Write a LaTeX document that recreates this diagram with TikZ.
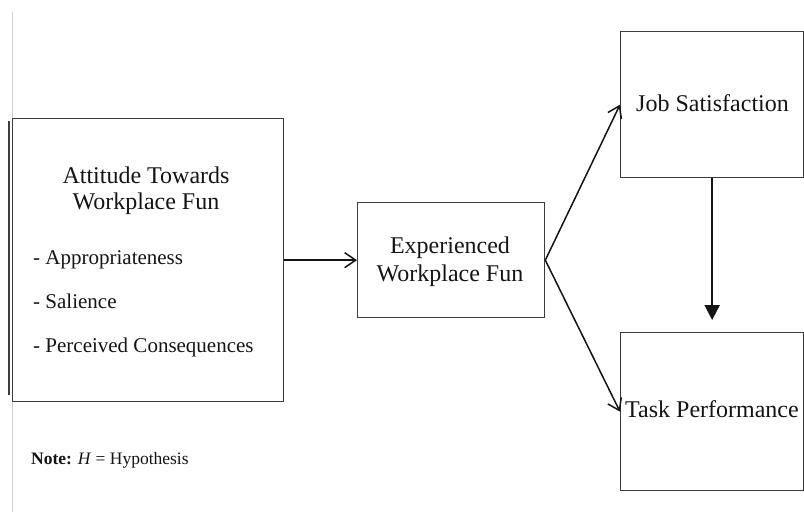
\documentclass[tikz,border=0pt]{standalone}
\usepackage{fontspec}
\setmainfont{Liberation Serif}
\usetikzlibrary{arrows.meta}
\definecolor{boxline}{RGB}{60,60,60}
\definecolor{ink}{RGB}{20,20,20}
\tikzset{
  box/.style={draw=boxline, line width=1.3pt, rectangle, inner sep=0pt, anchor=north west},
  txt/.style={inner sep=0pt, text=ink, font=\fontsize{24}{28}\selectfont},
  itemtxt/.style={inner sep=0pt, text=ink, font=\fontsize{21}{25}\selectfont, anchor=base west},
  arr/.style={line width=1.5pt, draw=ink, -{Straight Barb[length=11pt,width=15pt,line width=1.5pt]}},
  arrfill/.style={line width=2.2pt, draw=ink, -{Triangle[length=15pt,width=15pt]}}
}
\begin{document}
\begin{tikzpicture}[x=1pt,y=-1pt]
\useasboundingbox (0,0) rectangle (804,512);
% page margin artifacts
\draw[gray!35, line width=1pt] (12,12) -- (12,512);
\draw[boxline, line width=2pt] (9,121) -- (9,395);
% boxes
\node[box, minimum width=271pt, minimum height=283pt] (att) at (12,118) {};
\node[box, minimum width=187pt, minimum height=115pt] (exp) at (357,202) {};
\node[box, minimum width=183pt, minimum height=146pt] (job) at (620,31) {};
\node[box, minimum width=183pt, minimum height=158pt] (task) at (620,332) {};
% texts
\node[txt, anchor=base] (att1) at (146,183) {Attitude Towards};
\node[txt, anchor=base] (att2) at (146,209) {Workplace Fun};
\node[itemtxt] (i1) at (33,264) {- Appropriateness};
\node[itemtxt] (i2) at (33,308) {- Salience};
\node[itemtxt] (i3) at (33,352) {- Perceived Consequences};
\node[txt, anchor=base] (exp1) at (450,253) {Experienced};
\node[txt, anchor=base] (exp2) at (450,281) {Workplace Fun};
\node[txt, anchor=base] (jobt) at (712.5,111) {Job Satisfaction};
\node[txt, anchor=base west] (taskt) at (625,417) {Task Performance};
\node[inner sep=0pt, text=ink, anchor=base west, font=\fontsize{17.5}{20}\selectfont] (note) at (31,464) {\textbf{Note:} \textit{H} = Hypothesis};
% connectors
\draw[arr] (att.east) -- (exp.west);
\draw[arr] (exp.east) -- (job.west);
\draw[arr] (exp.east) -- (task.west);
\draw[arrfill, shorten >=12pt] (job.south) -- (task.north);
\end{tikzpicture}
\end{document}
